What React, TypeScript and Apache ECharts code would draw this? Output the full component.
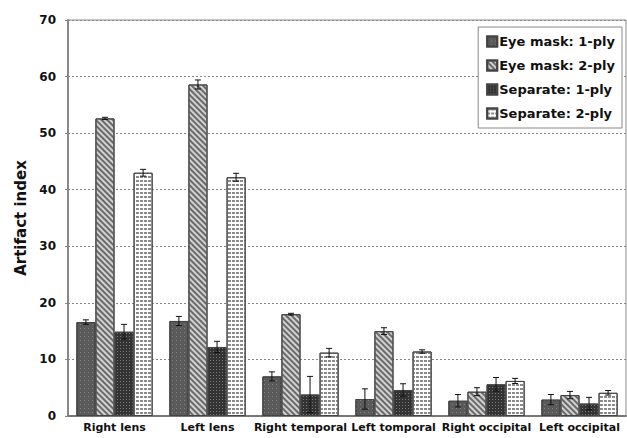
import React, { useEffect, useRef } from "react";
import * as echarts from "echarts";

const categories = ["Right lens", "Left lens", "Right temporal", "Left tomporal", "Right occipital", "Left occipital"];
const seriesNames = ["Eye mask: 1-ply", "Eye mask: 2-ply", "Separate: 1-ply", "Separate: 2-ply"];
const eyeMask1 = [16.6, 16.8, 7.0, 3.0, 2.7, 2.9];
const eyeMask2 = [52.6, 58.6, 18.0, 15.0, 4.3, 3.7];
const separate1 = [14.9, 12.2, 3.8, 4.6, 5.6, 2.2];
const separate2 = [43.0, 42.2, 11.2, 11.4, 6.2, 4.1];
const err1 = [0.4, 0.8, 0.8, 1.8, 1.1, 0.9];
const err2 = [0.2, 0.8, 0.15, 0.6, 0.7, 0.65];
const err3 = [1.3, 1.0, 3.2, 1.1, 1.2, 1.1];
const err4 = [0.6, 0.7, 0.75, 0.3, 0.45, 0.4];
const yTicks = [0, 10, 20, 30, 40, 50, 60, 70];

const values = [eyeMask1, eyeMask2, separate1, separate2];
const errors = [err1, err2, err3, err4];

const GAP = 0.18;

export default function App() {
  const ref = useRef<HTMLDivElement>(null);
  useEffect(() => {
    if (!ref.current) return;
    const chart = echarts.init(ref.current, null, { renderer: "svg" });
    const styles = [
      {
        color: "#5a5a5a",
        decal: { symbol: "rect", symbolSize: 1, color: "rgba(140,140,140,0.8)", dashArrayX: [1, 3], dashArrayY: [1, 3], rotation: 0 },
      },
      {
        color: "#d2d2d2",
        decal: { symbol: "rect", symbolSize: 1, color: "#6a6a6a", dashArrayX: [1, 0], dashArrayY: [1.2, 1.8], rotation: Math.PI / 4 },
      },
      {
        color: "#333333",
        decal: { symbol: "rect", symbolSize: 1, color: "#7a7a7a", dashArrayX: [1, 2], dashArrayY: [1, 2], rotation: 0 },
      },
      {
        color: "#ffffff",
        decal: { symbol: "rect", symbolSize: 1, color: "#8a8a8a", dashArrayX: [[3, 1]], dashArrayY: [1.5, 2], rotation: 0 },
      },
    ];
    const barSeries = seriesNames.map((name, i) => ({
      name,
      type: "bar",
      data: values[i],
      barGap: "0%",
      barCategoryGap: GAP * 100 + "%",
      itemStyle: { ...styles[i], borderColor: "#444", borderWidth: 1 },
    }));
    const errData: number[][] = [];
    values.forEach((vals, s) => {
      vals.forEach((v, c) => {
        errData.push([c, s, v - errors[s][c], v + errors[s][c]]);
      });
    });
    chart.setOption({
      animation: false,
      grid: { left: 68, right: 1, top: 20, bottom: 22, show: true, borderColor: "#888", borderWidth: 1, backgroundColor: "transparent" },
      legend: {
        data: seriesNames,
        orient: "vertical",
        right: 5,
        top: 27,
        icon: "rect",
        itemWidth: 10,
        itemHeight: 10,
        itemGap: 11,
        padding: [8, 7, 8, 8],
        backgroundColor: "#ffffff",
        borderColor: "#888",
        borderWidth: 1,
        textStyle: { fontFamily: "DejaVu Sans", fontWeight: "bold", fontSize: 13, color: "#111", padding: [0, 0, 0, -3] },
      },
      xAxis: {
        type: "category",
        data: categories,
        axisLine: { lineStyle: { color: "#777", width: 2 } },
        axisTick: { show: false },
        axisLabel: { fontFamily: "DejaVu Sans", fontWeight: "bold", fontSize: 11, color: "#111", margin: 6, interval: 0 },
      },
      yAxis: {
        type: "value",
        min: yTicks[0],
        max: yTicks[yTicks.length - 1],
        interval: 10,
        name: "Artifact index",
        nameLocation: "middle",
        nameGap: 40,
        nameTextStyle: { fontFamily: "DejaVu Sans", fontWeight: "bold", fontSize: 15, color: "#111" },
        axisLine: { show: true, lineStyle: { color: "#888", width: 2 } },
        axisTick: { show: true, length: 3, lineStyle: { color: "#888" } },
        axisLabel: { fontFamily: "DejaVu Sans", fontWeight: "bold", fontSize: 12, color: "#111", margin: 12 },
        splitLine: { lineStyle: { color: "#888", type: [2, 2], width: 1 } },
      },
      series: [
        ...barSeries,
        {
          type: "custom",
          z: 10,
          data: errData,
          encode: { x: 0, y: [2, 3] },
          renderItem: (params: any, api: any) => {
            const c = api.value(0);
            const s = api.value(1);
            const lo = api.coord([c, api.value(2)]);
            const hi = api.coord([c, api.value(3)]);
            const band = api.size([1, 0])[0];
            const area = band * (1 - GAP);
            const bw = area / 4;
            const x = lo[0] - area / 2 + bw * (s + 0.5);
            const cap = 3;
            const st = { stroke: "#111", lineWidth: 1 };
            return {
              type: "group",
              children: [
                { type: "line", shape: { x1: x, y1: lo[1], x2: x, y2: hi[1] }, style: st },
                { type: "line", shape: { x1: x - cap, y1: lo[1], x2: x + cap, y2: lo[1] }, style: st },
                { type: "line", shape: { x1: x - cap, y1: hi[1], x2: x + cap, y2: hi[1] }, style: st },
              ],
            };
          },
        },
      ],
    } as any);
    return () => chart.dispose();
  }, []);
  return <div ref={ref} style={{ width: 627, height: 438, position: "absolute", left: 0, top: 0 }} />;
}
